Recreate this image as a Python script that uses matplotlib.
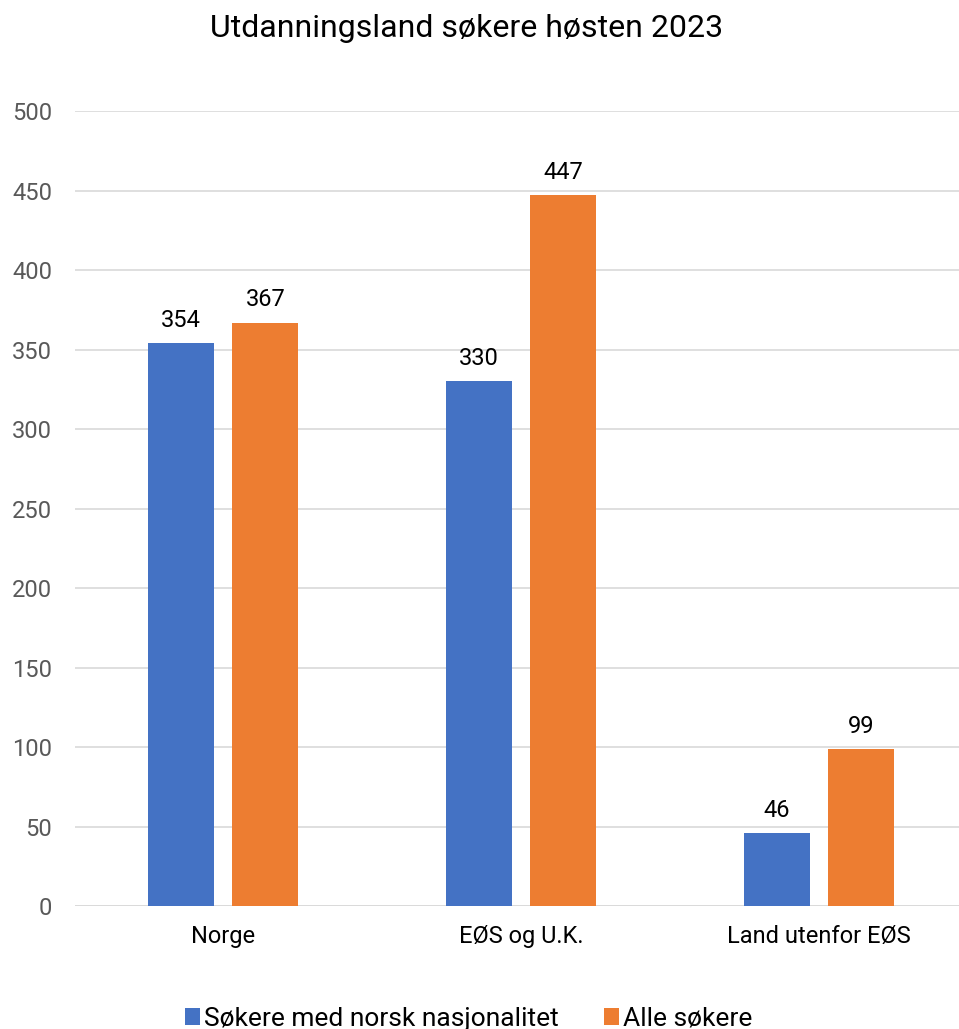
import matplotlib.pyplot as plt
import numpy as np

plt.rcParams["font.family"] = ["Roboto", "DejaVu Sans"]

categories = ["Norge", "EØS og U.K.", "Land utenfor EØS"]
norsk = [354, 330, 46]
alle = [367, 447, 99]
series_names = ["Søkere med norsk nasjonalitet", "Alle søkere"]

blue = "#4472C4"
orange = "#ED7D31"

fig = plt.figure(figsize=(9.59, 10.29), dpi=100)
ax = fig.add_axes([0.0777, 0.1195, 0.932, 0.7725])

x = np.arange(len(categories))
w = 0.2215
b1 = ax.bar(x - 0.143, norsk, w, color=blue, label=series_names[0], zorder=3)
b2 = ax.bar(x + 0.141, alle, w, color=orange, label=series_names[1], zorder=3)

for bars in (b1, b2):
    for r in bars:
        ax.text(r.get_x() + r.get_width() / 2, r.get_height() + 7,
                f"{int(r.get_height())}", ha="center", va="bottom",
                fontsize=17, color="#000000")

ax.set_xlim(-0.5, 2.5)
ax.set_ylim(0, 500)
ax.set_yticks(range(0, 501, 50))
ax.set_xticks(x)
ax.set_xticklabels(categories)
ax.tick_params(axis="y", length=0, pad=16, labelsize=17, labelcolor="#595959")
ax.tick_params(axis="x", length=0, pad=14, labelsize=17, labelcolor="#000000")
ax.grid(axis="y", color="#D9D9D9", linewidth=1.2, zorder=0)
for s in ax.spines.values():
    s.set_visible(False)
ax.axhline(0, color="#D9D9D9", linewidth=1.2, zorder=1)

fig.text(0.486, 0.972, "Utdanningsland søkere høsten 2023", ha="center", va="center",
         fontsize=23, color="#000000")

fig.legend(handles=[b1, b2], loc="center", bbox_to_anchor=(0.489, 0.01), ncol=2,
           frameon=False, fontsize=19, handlelength=0.57, handleheight=0.57,
           handletextpad=0.15, columnspacing=1.7)

fig.savefig("out.png", dpi=100)
